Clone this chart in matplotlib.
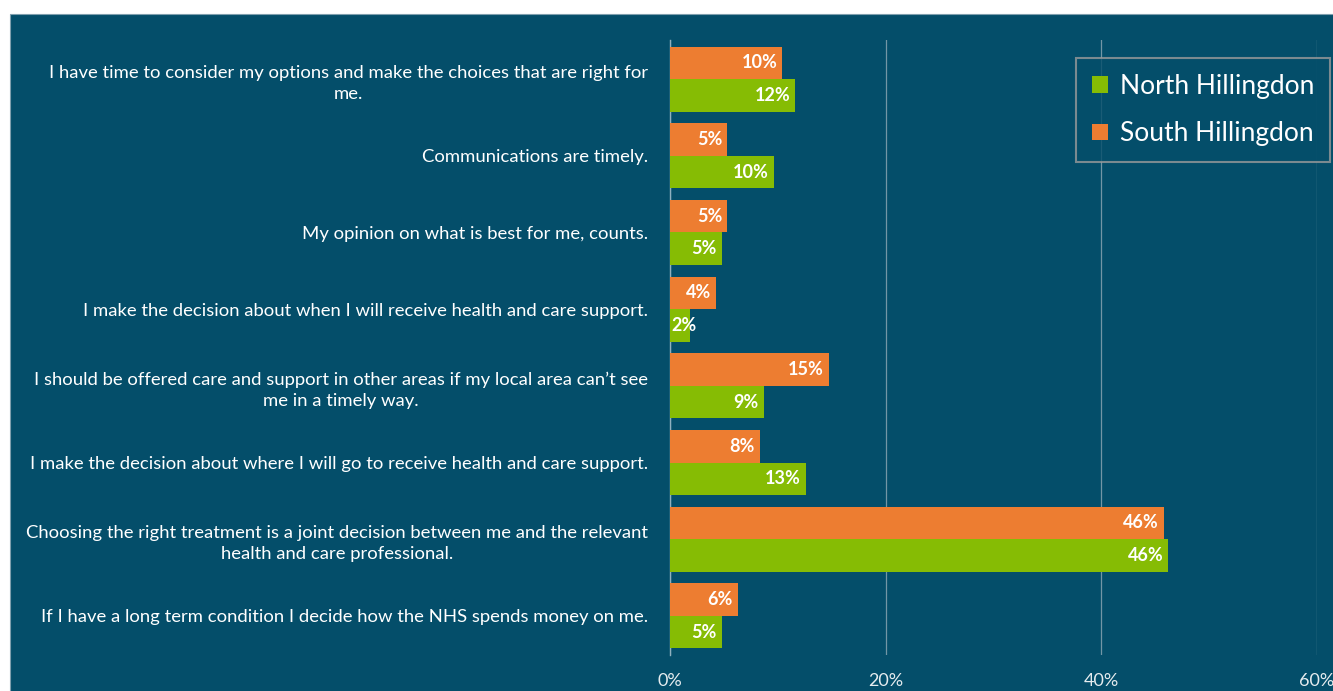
import matplotlib
matplotlib.use("Agg")
import matplotlib.pyplot as plt
from matplotlib.patches import Rectangle, Patch
import numpy as np

plt.rcParams['font.family'] = ['Lato', 'DejaVu Sans']

categories = [
    "I have time to consider my options and make the choices that are right for\nme.",
    "Communications are timely.",
    "My opinion on what is best for me, counts.",
    "I make the decision about when I will receive health and care support.",
    "I should be offered care and support in other areas if my local area can\u2019t see\nme in a timely way.",
    "I make the decision about where I will go to receive health and care support.",
    "Choosing the right treatment is a joint decision between me and the relevant\nhealth and care professional.",
    "If I have a long term condition I decide how the NHS spends money on me.",
]
south_hillingdon = [10.4, 5.3, 5.3, 4.3, 14.7, 8.3, 45.8, 6.3]
north_hillingdon = [11.6, 9.6, 4.8, 1.9, 8.7, 12.6, 46.2, 4.8]
x_ticks = [0, 20, 40, 60]

BG = "#044e6a"
ORANGE = "#ed7d31"
GREEN = "#86bc04"

fig = plt.figure(figsize=(13.33, 6.91), dpi=100)
fig.patch.set_facecolor("white")

# dark panel behind the chart
bg_ax = fig.add_axes([0, 0, 1, 1], zorder=-10)
bg_ax.set_axis_off()
bg_ax.set_xlim(0, 1)
bg_ax.set_ylim(0, 1)
bg_ax.add_patch(Rectangle((10 / 1333, -0.01), 1, 1 - 14 / 691 + 0.01,
                          facecolor=BG, edgecolor="#7f9fae", linewidth=0.8))

ax = fig.add_axes([670 / 1333, 1 - 655 / 691, 647 / 1333, 615 / 691], zorder=1)
ax.set_facecolor("none")

y = np.arange(len(categories))
h = 0.425
ax.barh(y - h / 2, south_hillingdon, height=h, color=ORANGE, zorder=3)
ax.barh(y + h / 2, north_hillingdon, height=h, color=GREEN, zorder=3)


def value_label(v, yc):
    # short bars get their label starting at the axis instead of inside the end
    if v < 3:
        ax.text(0.15, yc, f"{v:.0f}%", ha="left", va="center",
                color="white", fontsize=13, fontweight="bold", zorder=4)
    else:
        ax.text(v - 0.45, yc, f"{v:.0f}%", ha="right", va="center",
                color="white", fontsize=13, fontweight="bold", zorder=4)


for yi, v in zip(y, south_hillingdon):
    value_label(v, yi - h / 2)
for yi, v in zip(y, north_hillingdon):
    value_label(v, yi + h / 2)

ax.set_xlim(0, 60)
ax.set_ylim(len(categories) - 0.49, -0.51)
ax.set_xticks(x_ticks)
ax.set_xticklabels([f"{t}%" for t in x_ticks], color="#e6ecef", fontsize=13)
ax.tick_params(axis="x", length=0, pad=13)
ax.set_yticks(y)
ax.set_yticklabels(categories, color="white", fontsize=13.3, ha="right",
                   multialignment="center", linespacing=1.4)
ax.tick_params(axis="y", length=0, pad=16)

ax.grid(axis="x", color="#7396a6", linewidth=0.9, zorder=1)
for s in ["top", "right", "bottom"]:
    ax.spines[s].set_visible(False)
ax.spines["left"].set_color("#8fb0bf")
ax.spines["left"].set_linewidth(1.0)
ax.spines["left"].set_zorder(2)

handles = [Patch(facecolor=GREEN, label="North Hillingdon"),
           Patch(facecolor=ORANGE, label="South Hillingdon")]
leg = fig.legend(handles=handles, loc="upper right",
                 bbox_to_anchor=(1330 / 1333, 1 - 58 / 691),
                 bbox_transform=fig.transFigure, fontsize=19, frameon=True,
                 fancybox=False, handlelength=0.6, handleheight=0.6,
                 handletextpad=0.45, labelspacing=0.85, borderpad=0.6,
                 borderaxespad=0)
leg.set_zorder(5)
leg.get_frame().set_facecolor(BG)
leg.get_frame().set_edgecolor("#9a9a9a")
leg.get_frame().set_linewidth(1.5)
for t in leg.get_texts():
    t.set_color("white")

fig.savefig("out.png", dpi=100, facecolor=fig.get_facecolor())
